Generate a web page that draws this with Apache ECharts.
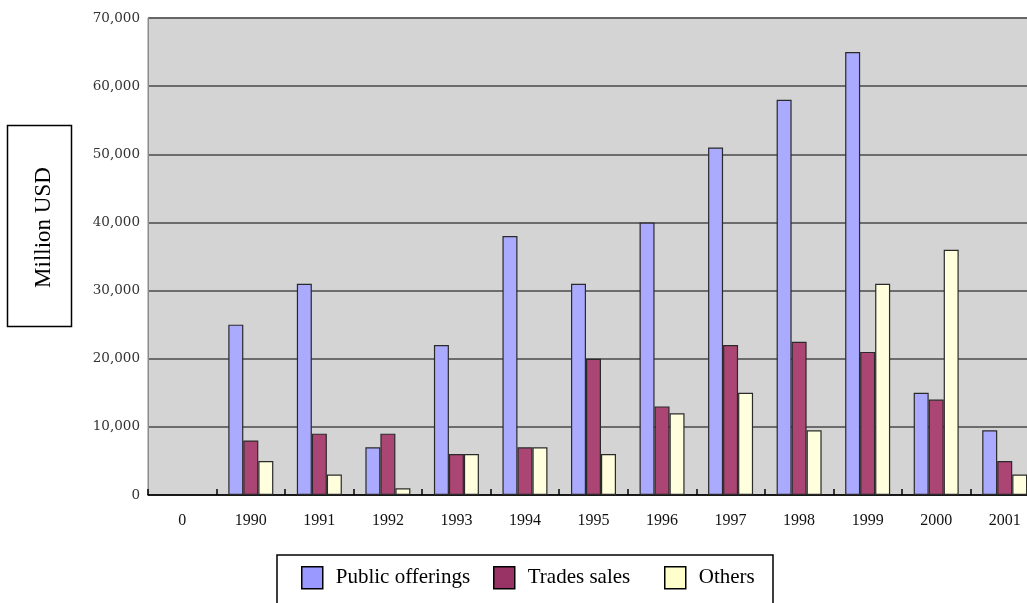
<!DOCTYPE html>
<html>
<head>
<meta charset="utf-8">
<script src="https://cdn.jsdelivr.net/npm/echarts@6/dist/echarts.min.js"></script>
<style>
  html, body { margin: 0; padding: 0; background: #fff; overflow: hidden; }
  #wrap { width: 1027px; height: 603px; overflow: hidden; }
  /* the plot runs past the right edge, so the canvas is wider than the page */
  #chart { width: 1045px; height: 603px; }
</style>
</head>
<body>
<div id="wrap"><div id="chart"></div></div>
<script>
// Exit proceeds (million USD) by route, per year
const categories = ['0', '1990', '1991', '1992', '1993', '1994', '1995', '1996', '1997', '1998', '1999', '2000', '2001'];
const publicOfferings = [null, 25000, 31000, 7000, 22000, 38000, 31000, 40000, 51000, 58000, 65000, 15000, 9500];
const tradesSales     = [null, 8000, 9000, 9000, 6000, 7000, 20000, 13000, 22000, 22500, 21000, 14000, 5000];
const others          = [null, 5000, 3000, 1000, 6000, 7000, 6000, 12000, 15000, 9500, 31000, 36000, 3000];
const seriesNames = ['Public offerings', 'Trades sales', 'Others'];
const yAxisTitle = 'Million USD';

const barFill    = ['#aaaaff', '#ab4574', '#ffffdd'];
const legendFill = ['#9999ff', '#993366', '#ffffcc'];
const legendLeft = [301, 493, 664];
const serif = '"Liberation Serif", "Times New Roman", serif';

const chart = echarts.init(document.getElementById('chart'), null, { renderer: 'canvas' });

const values = [publicOfferings, tradesSales, others];

// one legend block per series so each entry sits at its own spot inside the framed box
const legends = seriesNames.map((n, i) => ({
  left: legendLeft[i], top: 566,
  padding: 0,
  itemWidth: 21,
  itemHeight: 22,
  icon: 'rect',
  selectedMode: false,
  textStyle: { fontFamily: serif, fontSize: 21, color: '#000', padding: [0, 0, 0, 8] },
  data: [{ name: n, itemStyle: { color: legendFill[i], borderColor: '#000', borderWidth: 1.5 } }]
}));

chart.setOption({
  animation: false,
  backgroundColor: '#ffffff',
  grid: {
    left: 148, top: 18, width: 891, height: 477,
    show: true,
    backgroundColor: '#d4d4d4',
    borderColor: '#8a8a8a',
    borderWidth: 1
  },
  legend: legends,
  xAxis: {
    type: 'category',
    data: categories,
    axisLine: { lineStyle: { color: '#000', width: 1.5 } },
    axisTick: { show: true, inside: true, length: 6, lineStyle: { color: '#000', width: 1.5 } },
    axisLabel: { fontFamily: serif, fontSize: 16, color: '#111', margin: 18, interval: 0 },
    splitLine: { show: false }
  },
  yAxis: {
    type: 'value',
    min: 0, max: 70000, interval: 10000,
    axisLine: { show: true, lineStyle: { color: '#8a8a8a', width: 1 } },
    axisTick: { show: false },
    axisLabel: {
      fontFamily: '"DejaVu Serif", serif', fontSize: 13.5, color: '#333', margin: 8,
      formatter: v => v.toLocaleString('en-US')
    },
    splitLine: { lineStyle: { color: '#4a4a4a', width: 1.6 } }
  },
  series: seriesNames.map((n, i) => ({
    name: n,
    type: 'bar',
    data: values[i],
    barWidth: 15,
    barGap: '0%',
    itemStyle: { color: barFill[i], borderColor: '#2a2a2a', borderWidth: 1.2 }
  })),
  graphic: [
    {
      type: 'rect',
      z: -1,
      shape: { x: 277, y: 555, width: 496, height: 70 },
      style: { fill: '#fff', stroke: '#000', lineWidth: 1.5 }
    },
    {
      type: 'rect',
      shape: { x: 7.5, y: 125.5, width: 64, height: 201 },
      style: { fill: '#fff', stroke: '#000', lineWidth: 1.5 }
    },
    {
      type: 'text',
      x: 44, y: 227.5,
      rotation: Math.PI / 2,
      style: {
        text: yAxisTitle,
        font: '23px ' + serif,
        fill: '#000',
        textAlign: 'center',
        textVerticalAlign: 'middle'
      }
    }
  ]
});
</script>
</body>
</html>
